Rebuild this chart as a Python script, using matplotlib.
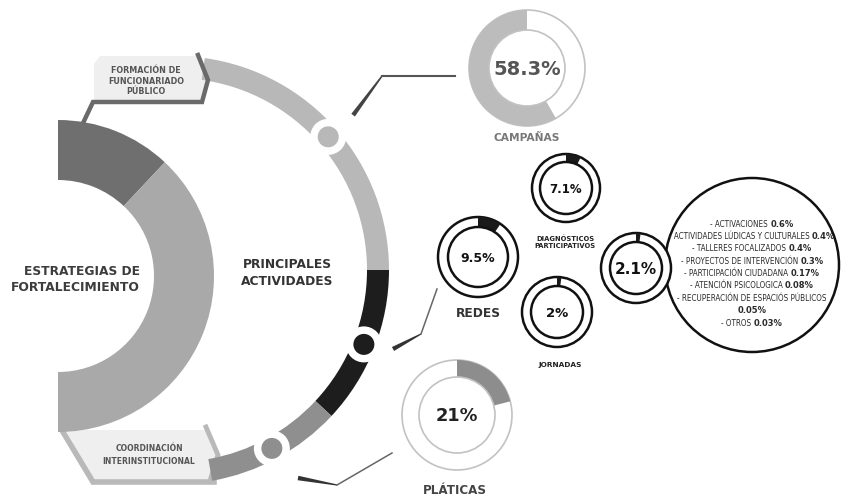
import numpy as np
import matplotlib.pyplot as plt
from matplotlib.patches import Wedge, Circle, Polygon

# media dona de estrategias (porcentaje de cada tramo)
estrategias = ["FORMACIÓN DE\nFUNCIONARIADO\nPÚBLICO", "COORDINACIÓN\nINTERINSTITUCIONAL"]
estrategias_pct = [24, 76]
estrategias_col = ['#6f6f6f', '#a9a9a9']

# arco de principales actividades: grados de cada tramo
arco_tramos = [82, 43, 37]
arco_col = ['#b8b8b8', '#1d1d1d', '#8f8f8f']

# donas de actividades
actividades = ["CAMPAÑAS", "DIAGNÓSTICOS\nPARTICIPATIVOS", "REDES", "JORNADAS", "", "PLÁTICAS"]
actividades_pct = [58.3, 7.1, 9.5, 2, 2.1, 21]

# desglose de "otros"
otras = ["ACTIVACIONES", "ACTIVIDADES LÚDICAS Y CULTURALES", "TALLERES FOCALIZADOS",
         "PROYECTOS DE INTERVENCIÓN", "PARTICIPACIÓN CIUDADANA", "ATENCIÓN PSICOLOGICA",
         "RECUPERACIÓN DE ESPACIÓS PÚBLICOS", "OTROS"]
otras_pct = [0.6, 0.4, 0.4, 0.3, 0.17, 0.08, 0.05, 0.03]


def pto(cx, cy, r, a):
    a = np.radians(a)
    return cx + r * np.cos(a), cy - r * np.sin(a)


def anillo(ax, cx, cy, r, ancho, a1, a2, color, z=2):
    # angulos de pantalla (antihorario); el eje y esta invertido
    ax.add_patch(Wedge((cx, cy), r, -a2, -a1, width=ancho, facecolor=color,
                       edgecolor='none', zorder=z))


def cuna(ax, p0, p1, w0, w1, color, z=3):
    # trazo que se adelgaza de p0 a p1
    p0, p1 = np.array(p0, float), np.array(p1, float)
    d = p1 - p0
    n = np.array([-d[1], d[0]]) / np.hypot(*d)
    poly = [p0 + n * w0 / 2, p1 + n * w1 / 2, p1 - n * w1 / 2, p0 - n * w0 / 2]
    ax.add_patch(Polygon(poly, closed=True, facecolor=color, edgecolor='none', zorder=z))


fig = plt.figure(figsize=(8.41, 4.98), dpi=100)
ax = fig.add_axes([0, 0, 1, 1])
ax.set_xlim(0, 841)
ax.set_ylim(498, 0)
ax.axis('off')

# ---- media dona izquierda ----
cx0, cy0, R0, W0 = 58, 276, 156, 60
a = 90
for pct, col in zip(estrategias_pct, estrategias_col):
    span = 180 * pct / 100
    anillo(ax, cx0, cy0, R0, W0, a - span, a, col)
    a -= span
ax.text(140, 271, "ESTRATEGIAS DE", ha='right', va='center', fontsize=8.8,
        fontweight='bold', color='#3c3c3c')
ax.text(140, 287, "FORTALECIMIENTO", ha='right', va='center', fontsize=8.8,
        fontweight='bold', color='#3c3c3c')

# ---- recuadros de las estrategias ----
ax.add_patch(Polygon([(100, 56), (199, 56), (207, 80), (201, 101), (94, 101), (94, 64)],
                     closed=True, facecolor='#efefef', edgecolor='none', zorder=1))
ax.plot([84, 93, 202, 208, 198], [121, 102, 102, 80, 55], color='#6a6a6a', lw=3.2,
        solid_joinstyle='miter', zorder=4)
ax.text(146, 81, estrategias[0], ha='center', va='center', fontsize=5.8, fontweight='bold',
        color='#555555', linespacing=1.25, zorder=5)

ax.add_patch(Polygon([(66, 430), (207, 430), (217, 455), (210, 480), (93, 480)],
                     closed=True, facecolor='#efefef', edgecolor='none', zorder=1))
ax.plot([63, 93, 214], [432, 482, 482], color='#b9b9b9', lw=4, solid_joinstyle='miter', zorder=1.5)
ax.plot([206, 218, 210], [427, 455, 481], color='#b9b9b9', lw=3.5, solid_joinstyle='miter', zorder=1.5)
ax.text(149, 455, estrategias[1], ha='center', va='center', fontsize=5.5, fontweight='bold',
        color='#555555', linespacing=1.5, zorder=5)

# ---- arco de principales actividades ----
cx1, cy1, R1, W1 = 175, 270, 214, 22
a = 82
puntos = []
for span, col in zip(arco_tramos, arco_col):
    anillo(ax, cx1, cy1, R1, W1, a - span, a, col)
    puntos.append((a - span / 2, col))
    a -= span
for ang, col in puntos:
    x, y = pto(cx1, cy1, R1 - W1 / 2, ang)
    ax.add_patch(Circle((x, y), 18, facecolor='white', edgecolor='none', zorder=3))
    ax.add_patch(Circle((x, y), 10.5, facecolor=col, edgecolor='none', zorder=4))
ax.text(287, 264, "PRINCIPALES", ha='center', va='center', fontsize=8.8,
        fontweight='bold', color='#333333')
ax.text(287, 281, "ACTIVIDADES", ha='center', va='center', fontsize=8.8,
        fontweight='bold', color='#333333')

# lineas guia
cuna(ax, pto(cx1, cy1, R1 + 22, puntos[0][0]), (382, 76), 4.5, 1.5, '#444444')
ax.plot([382, 455], [76, 76], color='#555555', lw=1.5, zorder=3)
cuna(ax, (393, 349), (421, 334), 4.5, 1.2, '#333333')
ax.plot([421, 437], [334, 289], color='#666666', lw=1.1, zorder=3)
cuna(ax, (298, 478), (337, 485), 4.5, 1.2, '#333333')
ax.plot([337, 392], [485, 453], color='#666666', lw=1.1, zorder=3)

# ---- donas de actividades ----
# (cx, cy, radio, ancho, sentido horario, estilo)
donas = [(527, 68, 58, 20, False, 'gris'),
         (566, 188, 34, 8, True, 'negro'),
         (478, 257, 40, 10, True, 'negro'),
         (557, 312, 35, 9, True, 'negro'),
         (636, 268, 35, 9, True, 'negro'),
         (457, 415, 55, 17, True, 'gris')]
relleno = ['#bcbcbc', '#1a1a1a', '#1a1a1a', '#1a1a1a', '#1a1a1a', '#8d8d8d']
txt_size = [14, 8.5, 9, 9.5, 11, 12.8]
txt_col = ['#555555', '#111111', '#111111', '#111111', '#111111', '#222222']

# circulo grande con el desglose (queda debajo de la dona de 2.1%)
ax.add_patch(Circle((752, 265), 87, facecolor='white', edgecolor='#111111', lw=1.8, zorder=2))

for (cx, cy, r, w, horario, estilo), pct, col, fs, tc in zip(donas, actividades_pct, relleno,
                                                          txt_size, txt_col):
    borde = '#c2c2c2' if estilo == 'gris' else '#111111'
    lw = 1.2 if estilo == 'gris' else 1.8
    ax.add_patch(Circle((cx, cy), r, facecolor='white', edgecolor=borde, lw=lw, zorder=3))
    span = 360 * pct / 100
    if horario:
        anillo(ax, cx, cy, r, w, 90 - span, 90, col, z=4)
    else:
        anillo(ax, cx, cy, r, w, 90, 90 + span, col, z=4)
    ax.add_patch(Circle((cx, cy), r - w, facecolor='white', edgecolor=borde, lw=lw, zorder=5))
    ax.text(cx, cy + 1, f"{pct:g}%", ha='center', va='center', fontsize=fs,
            fontweight='bold', color=tc, zorder=6)

ax.text(527, 138, actividades[0], ha='center', va='center', fontsize=7.7, fontweight='bold', color='#787878')
ax.text(565, 242, actividades[1], ha='center', va='center', fontsize=4.9, fontweight='bold',
        color='#222222', linespacing=1.3)
ax.text(478, 313, actividades[2], ha='center', va='center', fontsize=8.8, fontweight='bold', color='#333333')
ax.text(560, 365, actividades[3], ha='center', va='center', fontsize=5.3, fontweight='bold', color='#222222')
ax.text(455, 490, actividades[5], ha='center', va='center', fontsize=8.6, fontweight='bold', color='#444444')

# ---- lista de "otros" ----
renderer = fig.canvas.get_renderer()
lineas = []
for nombre, v in zip(otras, otras_pct):
    if len(nombre) > 32:
        lineas.append(("- " + nombre, ""))
        lineas.append(("", f"{v:g}%"))
    else:
        lineas.append(("- " + nombre + " ", f"{v:g}%"))

textos = []
y = 224
for nombre, valor in lineas:
    t1 = ax.text(0, y, nombre, ha='left', va='center', fontsize=6.5, family='DejaVu Sans',
                 fontstretch='condensed', color='#2a2a2a', zorder=6)
    t2 = ax.text(0, y, valor, ha='left', va='center', fontsize=6.5, fontweight='bold',
                 color='#2a2a2a', zorder=6)
    textos.append((t1, t2))
    y += 12.4


def anchos(t1, t2):
    w1 = t1.get_window_extent(renderer).width if t1.get_text() else 0
    w2 = t2.get_window_extent(renderer).width if t2.get_text() else 0
    return w1, w2


# la linea mas larga ocupa unos 164 px dentro del circulo
escala = 164 / max(sum(anchos(t1, t2)) for t1, t2 in textos)
for t1, t2 in textos:
    t1.set_fontsize(6.5 * escala)
    t2.set_fontsize(min(6.5 * escala * 1.05, 6.3))
for t1, t2 in textos:
    w1, w2 = anchos(t1, t2)
    x0 = 752 - (w1 + w2) / 2
    t1.set_x(x0)
    t2.set_x(x0 + w1)

fig.savefig('out.png', dpi=100)
